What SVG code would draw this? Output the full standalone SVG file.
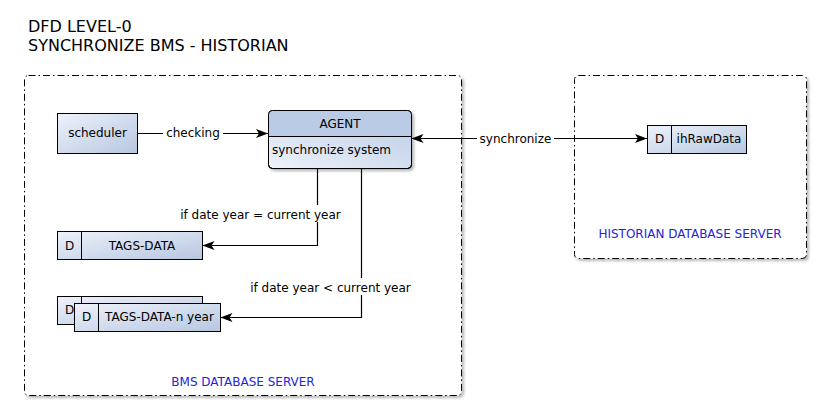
<svg xmlns="http://www.w3.org/2000/svg" width="822" height="410" viewBox="0 0 822 410">
<defs>
<linearGradient id="g" x1="0" y1="0" x2="1" y2="1">
<stop offset="0" stop-color="#eef2fa"/>
<stop offset="1" stop-color="#b6c7e1"/>
</linearGradient>
<linearGradient id="gb" x1="0" y1="1" x2="1" y2="0">
<stop offset="0" stop-color="#eef2fa"/>
<stop offset="1" stop-color="#b9cbe5"/>
</linearGradient>
<filter id="sh" x="-10%" y="-10%" width="130%" height="130%">
<feGaussianBlur in="SourceAlpha" stdDeviation="1.5"/>
<feOffset dx="2" dy="2"/>
<feComponentTransfer><feFuncA type="linear" slope="0.3"/></feComponentTransfer>
<feMerge><feMergeNode/><feMergeNode in="SourceGraphic"/></feMerge>
</filter>
<marker id="arr" viewBox="0 0 12 9" refX="12" refY="4.5" markerWidth="12" markerHeight="9" markerUnits="userSpaceOnUse" orient="auto-start-reverse">
<path d="M0,0 L12,4.5 L0,9 L3,4.5 z" fill="#000"/>
</marker>
</defs>
<style>
text{font-family:"DejaVu Sans","Liberation Sans",sans-serif;font-size:12px;fill:#000}
.title{font-size:16px}
.grp{fill:#fff;stroke:#000;stroke-width:1;stroke-dasharray:7 3 1.5 3}
.glbl{fill:#2424d6;text-anchor:middle}
.n{fill:url(#g);stroke:#000;stroke-width:1}
.c{text-anchor:middle}
.e{fill:none;stroke:#000;stroke-width:1.2}
.bg{fill:#fff}
</style>
<rect width="822" height="410" fill="#fff"/>
<text class="title" x="28" y="32">DFD LEVEL-0</text>
<text class="title" x="28" y="51">SYNCHRONIZE BMS - HISTORIAN</text>

<g id="bms-server">
<rect class="grp" x="24.5" y="75.5" width="437" height="320" rx="4" filter="url(#sh)"/>
<text class="glbl" x="243" y="386">BMS DATABASE SERVER</text>
</g>
<g id="historian-server">
<rect class="grp" x="574.5" y="75.5" width="232" height="183" rx="4" filter="url(#sh)"/>
<text class="glbl" x="690" y="238">HISTORIAN DATABASE SERVER</text>
</g>

<g id="scheduler">
<rect class="n" x="57.5" y="113.5" width="80" height="40"/>
<text class="c" x="97.5" y="137">scheduler</text>
</g>

<g id="agent">
<rect x="268.5" y="110.5" width="143" height="58" rx="4" fill="url(#gb)" stroke="#000" filter="url(#sh)"/>
<path d="M272.5,110.5 H407.5 A4,4 0 0 1 411.5,114.5 V136.5 H268.5 V114.5 A4,4 0 0 1 272.5,110.5 z" fill="#b9cbe5"/>
<rect x="268.5" y="110.5" width="143" height="58" rx="4" fill="none" stroke="#000"/>
<line x1="268.5" y1="136.5" x2="411.5" y2="136.5" stroke="#000"/>
<text class="c" x="340" y="128">AGENT</text>
<text x="272" y="154">synchronize system</text>
</g>

<g id="tags-data">
<rect class="n" x="57.5" y="231.5" width="145" height="28"/>
<line x1="81.5" y1="231.5" x2="81.5" y2="259.5" stroke="#000"/>
<text class="c" x="69.5" y="249.5">D</text>
<text class="c" x="142" y="249.5">TAGS-DATA</text>
</g>

<g id="tags-data-n-year">
<rect class="n" x="57.5" y="296.5" width="145" height="28"/>
<line x1="81.5" y1="296.5" x2="81.5" y2="324.5" stroke="#000"/>
<text class="c" x="69.5" y="314">D</text>
<rect class="n" x="74.5" y="303.5" width="146" height="28"/>
<line x1="98.5" y1="303.5" x2="98.5" y2="331.5" stroke="#000"/>
<text class="c" x="86.5" y="321">D</text>
<text class="c" x="159.5" y="321">TAGS-DATA-n year</text>
</g>

<g id="ihrawdata">
<rect class="n" x="647.5" y="125.5" width="99" height="28"/>
<line x1="671.5" y1="125.5" x2="671.5" y2="153.5" stroke="#000"/>
<text class="c" x="659.5" y="143">D</text>
<text class="c" x="709" y="143">ihRawData</text>
</g>

<g id="connectors">
<path class="e" d="M137.5,133.5 H268" marker-end="url(#arr)"/>
<rect class="bg" x="163" y="125" width="60" height="16"/>
<text class="c" x="193" y="137">checking</text>

<path class="e" d="M411.5,138.5 H647" marker-start="url(#arr)" marker-end="url(#arr)"/>
<rect class="bg" x="477" y="130" width="77" height="16"/>
<text class="c" x="515.5" y="142.5">synchronize</text>

<path class="e" d="M317.5,168.5 V245.5 H202.5" marker-end="url(#arr)"/>
<rect class="bg" x="178" y="205" width="166" height="17"/>
<text class="c" x="260.5" y="218.5">if date year = current year</text>

<path class="e" d="M361.5,168.5 V317.5 H220.5" marker-end="url(#arr)"/>
<rect class="bg" x="248" y="278" width="166" height="17"/>
<text class="c" x="330.5" y="292">if date year &lt; current year</text>
</g>
</svg>
